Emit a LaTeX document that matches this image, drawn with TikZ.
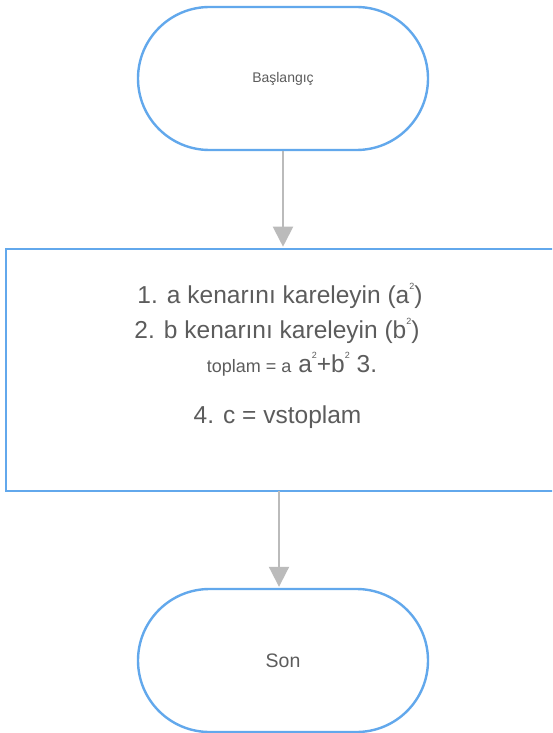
\documentclass[tikz,border=0pt]{standalone}
\usepackage{fontspec}
\setmainfont{Liberation Sans}
\usetikzlibrary{shapes.misc,arrows.meta}
\definecolor{flowblue}{HTML}{62A8EC}
\definecolor{flowgray}{HTML}{BBBBBB}
\definecolor{txtgray}{HTML}{5C5C5C}
\newcommand{\supsq}{\raisebox{0.55em}{\fontsize{9}{9}\selectfont 2}}
\tikzset{
  terminal/.style={draw=flowblue, line width=2.4pt, rounded rectangle, minimum width=290pt, minimum height=143pt, inner sep=0pt, text=txtgray},
  procbox/.style={draw=flowblue, line width=2.6pt, rectangle, minimum width=556pt, minimum height=242pt, inner sep=0pt},
  stepline/.style={inner sep=0pt, anchor=base, text=txtgray, font=\fontsize{24.5}{27}\selectfont},
  flow/.style={draw=flowgray, line width=2pt, -{Triangle[width=20pt,length=20pt]}, shorten >=1pt}
}
\begin{document}
\begin{tikzpicture}[x=1pt,y=-1pt]
\clip (0,0) rectangle (552,733);
\fill[white] (0,0) rectangle (552,733);
\node[terminal, font=\fontsize{14}{16}\selectfont] (start) at (283,78.5) {Başlangıç};
\node[procbox] (box) at (284,370) {};
\node[terminal, font=\fontsize{19.5}{22}\selectfont] (stop) at (283,660.5) {Son};
\node[stepline] (l1) at (280,303) {1. a kenarını kareleyin (a\supsq)};
\node[stepline] (l2) at (277,338) {2. b kenarını kareleyin (b\supsq)};
\node[stepline] (l3) at (292,372) {{\fontsize{18}{20}\selectfont toplam = a} a\supsq+b\supsq{} 3.};
\node[stepline] (l4) at (277.5,423) {4. c = vstoplam};
\coordinate (bx) at (279,491);
\draw[flow] (start.south) -- (start.south |- box.north);
\draw[flow] (bx) -- (bx |- stop.north);
\end{tikzpicture}
\end{document}
